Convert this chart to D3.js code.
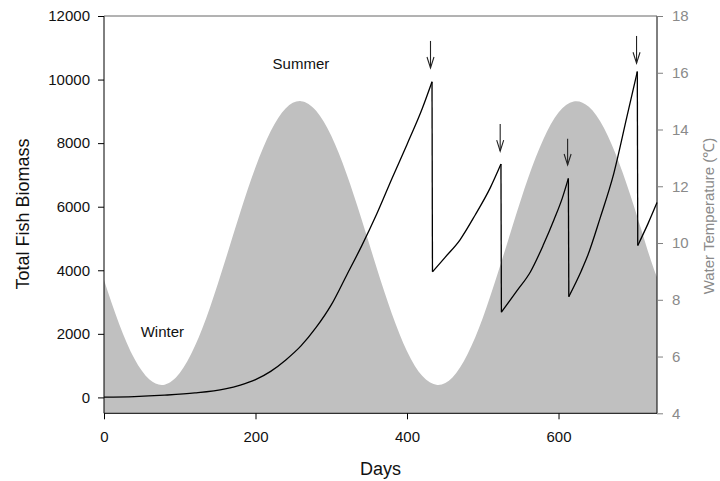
<!DOCTYPE html>
<html><head><meta charset="utf-8">
<script src="https://cdn.jsdelivr.net/npm/d3@7"></script>
<style>body{margin:0;background:#fff}svg{display:block;font-family:"Liberation Sans",Arial,sans-serif}</style>
</head><body>
<svg id="c" width="720" height="481"></svg>
<script>
// ---- data ----
const tempDays = [0,20,40,60,80,100,120,140,160,180,200,220,240,260,280,300,320,340,360,380,400,420,440,460,480,500,520,540,560,580,600,620,640,660,680,700,720,730];
const tempValues = [8.70,7.15,5.93,5.19,5.01,5.42,6.37,7.74,9.38,11.09,12.67,13.94,14.75,15.00,14.66,13.78,12.45,10.84,9.12,7.51,6.19,5.32,5.00,5.26,6.09,7.36,8.95,10.66,12.30,13.66,14.60,14.99,14.80,14.05,12.82,11.26,9.55,8.80];

const bioDays = [0,40,80,120,160,180,200,220,240,260,280,300,320,340,360,380,400,420,433,
                 433.6,450,470,490,510,524,
                 524.6,545,563,580,594,605,613,
                 613.6,630,638,655,673,690,704,
                 704.6,718,730];
const bioValues = [10,25,70,140,270,390,560,820,1180,1620,2200,2910,3830,4760,5770,6880,7960,9080,9930,
                   3950,4400,4960,5740,6600,7340,
                   2680,3350,3955,4800,5590,6270,6890,
                   3170,3980,4430,5650,7050,8800,10250,
                   4780,5460,6130];

const arrowDays = [431,523,612,703];
const arrowTop  = [11215,8600,8140,11372];
const arrowTip  = [10365,7750,7313,10513];

const seasonLabels = ["Summer","Winter"];
const seasonDays = [260,77];
const seasonTemps = [16.13,6.70];

const xTicks = [0,200,400,600];
const yLeftTicks = [0,2000,4000,6000,8000,10000,12000];
const yRightTicks = [4,6,8,10,12,14,16,18];

// ---- layout ----
const svg = d3.select("#c");
const L=104, R=657, T=16, B=413.3;
const x = d3.scaleLinear().domain([0,730]).range([L,R]);
const yL = d3.scaleLinear().domain([-500,12000]).range([B,T]);
const yR = d3.scaleLinear().domain([4,18]).range([B,T]);

// temperature area
const temp = tempDays.map((d,i)=>({d, v:tempValues[i]}));
svg.append("path").datum(temp)
  .attr("fill","#c0c0c0")
  .attr("d", d3.area().x(p=>x(p.d)).y0(yR(4)).y1(p=>yR(p.v)).curve(d3.curveNatural));

// biomass line: split into growth segments at harvests
const bio = bioDays.map((d,i)=>({d, v:bioValues[i]}));
const segs=[[bio[0]]];
for(let i=1;i<bio.length;i++){
  if(bio[i].v < bio[i-1].v) segs.push([]);
  segs[segs.length-1].push(bio[i]);
}
const line = d3.line().x(p=>x(p.d)).y(p=>yL(p.v)).curve(d3.curveMonotoneX);
const g = svg.append("g").attr("fill","none").attr("stroke","#000").attr("stroke-width",1.3);
segs.forEach(s=>g.append("path").attr("d",line(s)));
for(let i=1;i<segs.length;i++){
  const a=segs[i-1][segs[i-1].length-1], b=segs[i][0];
  g.append("path").attr("d", d3.line().x(p=>x(p.d)).y(p=>yL(p.v))([a,b]));
}

// arrows
const ag = svg.append("g").attr("stroke","#222").attr("stroke-width",1.1).attr("fill","none");
arrowDays.forEach((d,i)=>{
  const ax=x(d), y0=yL(arrowTop[i]), y1=yL(arrowTip[i]);
  ag.append("line").attr("x1",ax).attr("x2",ax).attr("y1",y0).attr("y2",y1);
  ag.append("path").attr("d",`M${ax-3.5},${y1-11}L${ax},${y1}L${ax+3.5},${y1-11}`);
});

// season labels
seasonLabels.forEach((t,i)=>{
  svg.append("text").attr("x",x(seasonDays[i])).attr("y",yR(seasonTemps[i]))
    .attr("text-anchor","middle").attr("font-size",15).attr("fill","#111").text(t);
});

// axes
const ax = svg.append("g").attr("transform",`translate(0,${B})`)
  .call(d3.axisBottom(x).tickValues(xTicks).tickSize(6).tickPadding(12).tickFormat(d3.format("d")));
ax.select(".domain").attr("d",`M${L},0H${R}`);
const al = svg.append("g").attr("transform",`translate(${L},0)`)
  .call(d3.axisLeft(yL).tickValues(yLeftTicks).tickSize(6).tickPadding(8).tickFormat(d3.format("d")));
al.select(".domain").attr("d",`M0,${T}V${B}`);
const ar = svg.append("g").attr("transform",`translate(${R},0)`)
  .call(d3.axisRight(yR).tickValues(yRightTicks).tickSize(6).tickPadding(9).tickFormat(d3.format("d")));
ar.select(".domain").attr("d",`M0,${T}V${B}`).attr("stroke","#000");
ar.selectAll(".tick line").attr("stroke","#808080");
ar.selectAll(".tick text").attr("fill","#8a8a8a");
[ax,al,ar].forEach(a=>a.selectAll("text").attr("font-size",15).attr("font-family","Liberation Sans, Arial, sans-serif"));
ax.selectAll(".tick text").attr("fill","#111");
al.selectAll(".tick text").attr("fill","#111");

// top frame
svg.append("line").attr("x1",L).attr("x2",R).attr("y1",T).attr("y2",T).attr("stroke","#666").attr("stroke-width",1);

// axis titles
svg.append("text").attr("x",(L+R)/2).attr("y",474.5).attr("text-anchor","middle")
  .attr("font-size",18).attr("fill","#111").text("Days");
svg.append("text").attr("transform","translate(29,214) rotate(-90)").attr("text-anchor","middle")
  .attr("font-size",18).attr("fill","#111").text("Total Fish Biomass");
svg.append("text").attr("transform","translate(714,216) rotate(-90)").attr("text-anchor","middle")
  .attr("font-size",15).attr("fill","#8a8a8a").text("Water Temperature (℃)");
</script>
</body></html>
